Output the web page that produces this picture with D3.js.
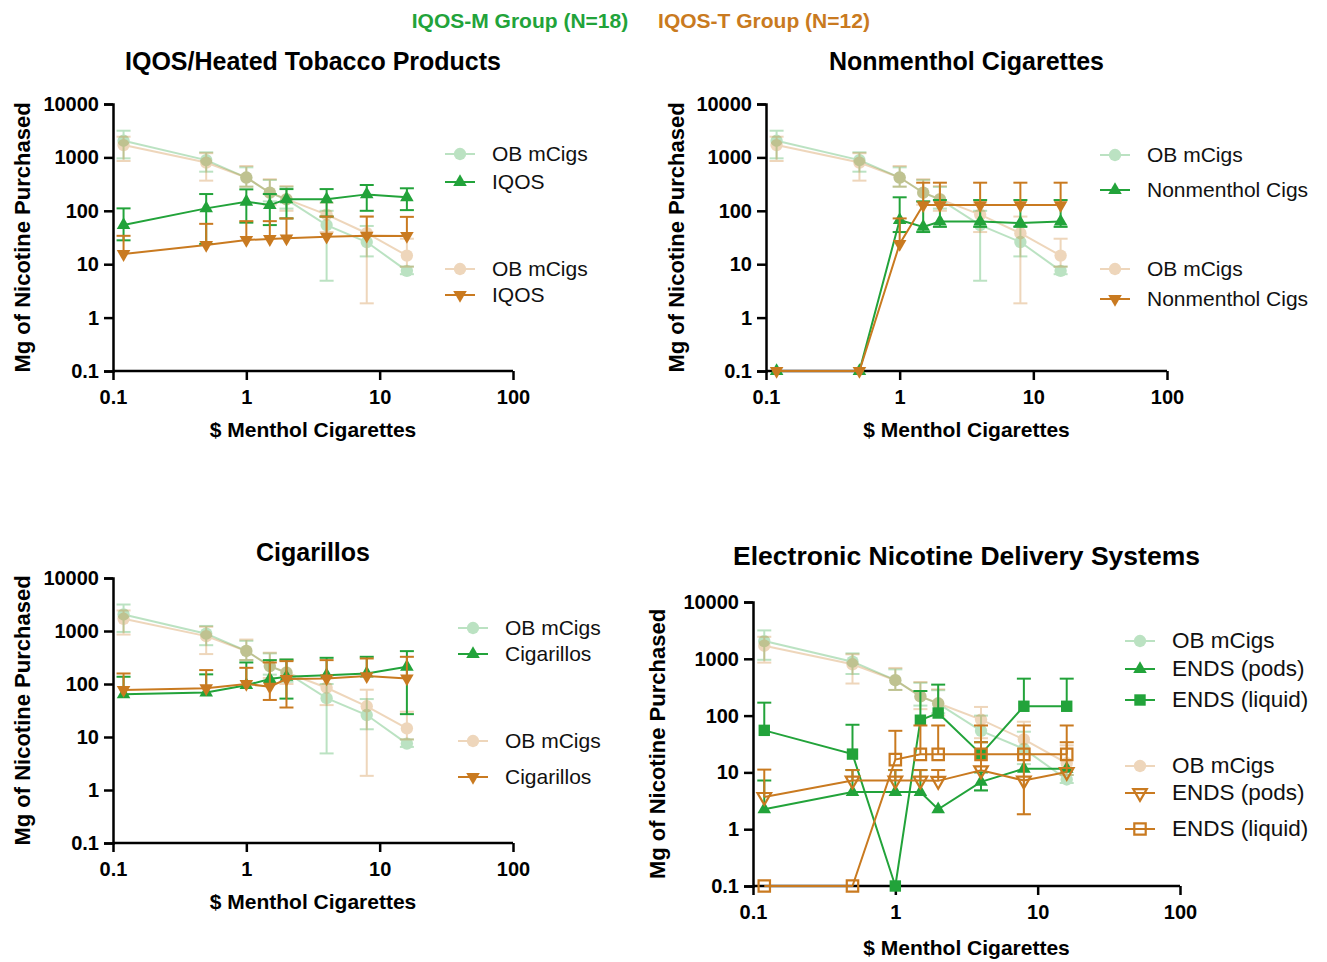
<!DOCTYPE html>
<html>
<head>
<meta charset="utf-8">
<script src="https://cdn.jsdelivr.net/npm/d3@7"></script>
<style>
  body { margin: 0; background: #fff; }
  svg { font-family: "Liberation Sans", Arial, sans-serif; }
  .axis path, .axis line { stroke: #000; stroke-width: 2.5; }
  .axis text { font-weight: bold; font-size: 20px; fill: #000; }
</style>
</head>
<body>
<svg id="chart" width="1327" height="962"></svg>
<script>
// price points ($ menthol cigarettes)
const prices = [0.12, 0.5, 1, 1.5, 2, 4, 8, 16];
const yTicks = [0.1, 1, 10, 100, 1000, 10000];
const xTicks = [0.1, 1, 10, 100];

// own-brand menthol cigs, same in every panel
const obM = [2050, 890, 420, 218, 163, 54, 26, 7.5];
const obMLo = [960, 540, 283, 150, 110, 4.9, 14, 6.5];
const obMHi = [3160, 1245, 652, 378, 280, 100, 52, 9];
const obT = [1700, 800, 420, 218, 165, 85, 38, 14.5];
const obTLo = [857, 367, 283, 130, 100, 40, 1.85, 9];
const obTHi = [2440, 1200, 690, 390, 290, 142, 78, 30];

// IQOS
const iqosM = [54, 111, 148, 128, 164, 164, 203, 179];
const iqosMLo = [28, 24, 60, 54, 72, 78, 100, 103];
const iqosMHi = [111, 206, 252, 206, 255, 255, 304, 264];
const iqosT = [15.5, 22.9, 28.4, 29.6, 30.5, 32.8, 34.2, 33.7];
const iqosTLo = [15.5, 22.9, 28.4, 29.6, 30.5, 32.8, 34.2, 33.7];
const iqosTHi = [34, 57, 64, 64, 72, 78, 78, 77];

// nonmenthol cigs
const nonM = [0.1, 0.1, 67, 50, 63, 63, 59, 63];
const nonMLo = [0.1, 0.1, 40, 40, 50, 50, 50, 50];
const nonMHi = [0.1, 0.1, 179, 150, 159, 159, 159, 159];
const nonT = [0.1, 0.1, 24, 128, 128, 128, 128, 128];
const nonTLo = [0.1, 0.1, 24, 128, 128, 128, 128, 128];
const nonTHi = [0.1, 0.1, 72, 336, 336, 336, 336, 336];

// cigarillos
const cigM = [64, 69, 95, 124, 137, 147, 158, 211];
const cigMLo = [64, 69, 95, 124, 53, 147, 158, 27];
const cigMHi = [137, 152, 255, 282, 290, 312, 326, 417];
const cigT = [77, 83, 100, 89, 124, 127, 141, 127];
const cigTLo = [77, 83, 100, 50, 36, 127, 141, 127];
const cigTHi = [158, 183, 202, 255, 270, 282, 303, 326];

// ENDS
const podsM = [2.24, 4.5, 4.5, 4.5, 2.24, 6.8, 11.6, 11.6];
const podsMLo = [2.24, 4.5, 4.5, 4.5, 2.24, 4.8, 11.6, 11.6];
const podsMHi = [7.2, 11, 11, 11, 2.24, 10, 11.6, 11.6];
const liqM = [55, 21, 0.1, 83, 111, 21, 146, 146];
const liqMLo = [55, 21, 0.1, 83, 111, 21, 146, 146];
const liqMHi = [169, 69, 0.1, 271, 351, 34, 447, 447];
const podsT = [3.7, 7.2, 7.2, 7.2, 7.1, 10.9, 7.2, 10.2];
const podsTLo = [3.7, 7.2, 7.2, 7.2, 7.1, 10.9, 1.83, 10.2];
const podsTHi = [11.2, 11, 11, 11, 11, 34, 21, 34];
const liqT = [0.1, 0.1, 16.8, 20.8, 20.8, 20.8, 20.8, 20.8];
const liqTLo = [0.1, 0.1, 16.8, 20.8, 20.8, 20.8, 20.8, 20.8];
const liqTHi = [0.1, 0.1, 54, 67, 67, 67, 67, 67];

const GREEN = "#22a33a";
const ORANGE = "#c97a20";

const svg = d3.select("#chart");

// group header
svg.append("text").attr("x", 520).attr("y", 28).attr("text-anchor", "middle")
  .attr("font-weight", "bold").attr("font-size", 21).attr("fill", GREEN)
  .text("IQOS-M Group (N=18)");
svg.append("text").attr("x", 764).attr("y", 28).attr("text-anchor", "middle")
  .attr("font-weight", "bold").attr("font-size", 21).attr("fill", ORANGE)
  .text("IQOS-T Group (N=12)");

function series(vals, lo, hi, color, shape, open, light, label) {
  return { vals, lo, hi, color, shape, open, light, label };
}

const obSeriesM = series(obM, obMLo, obMHi, GREEN, "circle", false, true, "OB mCigs");
const obSeriesT = series(obT, obTLo, obTHi, ORANGE, "circle", false, true, "OB mCigs");

const panels = [
  { title: "IQOS/Heated Tobacco Products", x0: 113, x1: 513, y0: 104, y1: 371, titleY: 70, labelX: 22,
    titleSize: 25, legendSize: 21, xTitleDy: 66,
    series: [series(iqosM, iqosMLo, iqosMHi, GREEN, "up", false, false, "IQOS"),
             series(iqosT, iqosTLo, iqosTHi, ORANGE, "down", false, false, "IQOS")],
    legend: { x: 445, ys: [[154, 182], [269, 295]] } },
  { title: "Nonmenthol Cigarettes", x0: 766, x1: 1167, y0: 104, y1: 371, titleY: 70, labelX: 676,
    titleSize: 25, legendSize: 21, xTitleDy: 66,
    series: [series(nonM, nonMLo, nonMHi, GREEN, "up", false, false, "Nonmenthol Cigs"),
             series(nonT, nonTLo, nonTHi, ORANGE, "down", false, false, "Nonmenthol Cigs")],
    legend: { x: 1100, ys: [[155, 190], [269, 299]] } },
  { title: "Cigarillos", x0: 113, x1: 513, y0: 578, y1: 843, titleY: 561, labelX: 22,
    titleSize: 25, legendSize: 21, xTitleDy: 66,
    series: [series(cigM, cigMLo, cigMHi, GREEN, "up", false, false, "Cigarillos"),
             series(cigT, cigTLo, cigTHi, ORANGE, "down", false, false, "Cigarillos")],
    legend: { x: 458, ys: [[628, 654], [741, 777]] } },
  { title: "Electronic Nicotine Delivery Systems", x0: 753, x1: 1180, y0: 602, y1: 886, titleY: 565, labelX: 657,
    titleSize: 26.5, legendSize: 22.5, xTitleDy: 69,
    series: [series(podsM, podsMLo, podsMHi, GREEN, "up", false, false, "ENDS (pods)"),
             series(liqM, liqMLo, liqMHi, GREEN, "square", false, false, "ENDS (liquid)"),
             series(podsT, podsTLo, podsTHi, ORANGE, "down", true, false, "ENDS (pods)"),
             series(liqT, liqTLo, liqTHi, ORANGE, "square", true, false, "ENDS (liquid)")],
    legend: { x: 1125, ys: [[641, 669, 700], [766, 793, 829]] } }
];

function symbolPath(shape) {
  if (shape === "circle") return d3.symbol(d3.symbolCircle, 120)();
  if (shape === "square") return d3.symbol(d3.symbolSquare, 130)();
  return d3.symbol(d3.symbolTriangle, 80)();
}

function drawMarker(g, s, x, y) {
  const m = g.append("path")
    .attr("d", symbolPath(s.shape))
    .attr("transform", `translate(${x},${y})` + (s.shape === "down" ? " rotate(180)" : ""));
  if (s.open) {
    m.attr("fill", "none").attr("stroke", s.color).attr("stroke-width", 2.2);
  } else {
    m.attr("fill", s.color);
  }
}

panels.forEach(p => {
  const x = d3.scaleLog().domain([0.1, 100]).range([p.x0, p.x1]);
  const y = d3.scaleLog().domain([0.1, 10000]).range([p.y1, p.y0]);
  const g = svg.append("g");
  const cx = (p.x0 + p.x1) / 2;

  g.append("text").attr("x", cx).attr("y", p.titleY).attr("text-anchor", "middle")
    .attr("font-weight", "bold").attr("font-size", p.titleSize).text(p.title);

  const xa = g.append("g").attr("class", "axis").attr("transform", `translate(0,${p.y1})`)
    .call(d3.axisBottom(x).tickValues(xTicks).tickFormat(d => String(d)).tickSizeOuter(0).tickSize(9).tickPadding(10));
  g.append("g").attr("class", "axis").attr("transform", `translate(${p.x0},0)`)
    .call(d3.axisLeft(y).tickValues(yTicks).tickFormat(d => String(d)).tickSizeOuter(0).tickSize(9).tickPadding(5));
  xa.select(".domain").attr("d", `M${p.x0},0H${p.x1}`);

  g.append("text").attr("x", cx).attr("y", p.y1 + p.xTitleDy).attr("text-anchor", "middle")
    .attr("font-weight", "bold").attr("font-size", 21).text("$ Menthol Cigarettes");
  g.append("text")
    .attr("transform", `translate(${p.labelX + 8},${(p.y0 + p.y1) / 2}) rotate(-90)`)
    .attr("text-anchor", "middle").attr("font-weight", "bold").attr("font-size", 22)
    .text("Mg of Nicotine Purchased");

  const all = [obSeriesM, obSeriesT].concat(p.series);
  const line = d3.line().x(d => x(d[0])).y(d => y(d[1]));

  all.forEach(s => {
    const sg = g.append("g").attr("opacity", s.light ? 0.3 : 1);
    // error bars
    prices.forEach((px, i) => {
      const xx = x(px);
      const lo = y(s.lo[i]), hi = y(s.hi[i]);
      if (Math.abs(lo - hi) < 1) return;
      sg.append("line").attr("x1", xx).attr("x2", xx).attr("y1", lo).attr("y2", hi)
        .attr("stroke", s.color).attr("stroke-width", 2);
      [s.lo[i], s.hi[i]].forEach(v => {
        if (v === s.vals[i]) return;
        sg.append("line").attr("x1", xx - 7).attr("x2", xx + 7).attr("y1", y(v)).attr("y2", y(v))
          .attr("stroke", s.color).attr("stroke-width", 2);
      });
    });
    sg.append("path").datum(prices.map((px, i) => [px, s.vals[i]]))
      .attr("d", line).attr("fill", "none").attr("stroke", s.color).attr("stroke-width", 2);
    prices.forEach((px, i) => drawMarker(sg, s, x(px), y(s.vals[i])));
  });

  // legend
  const groups = [[obSeriesM].concat(p.series.filter(s => s.color === GREEN)),
                  [obSeriesT].concat(p.series.filter(s => s.color === ORANGE))];
  groups.forEach((grp, gi) => {
    grp.forEach((s, k) => {
      const ly = p.legend.ys[gi][k];
      const lg = g.append("g").attr("opacity", s.light ? 0.3 : 1);
      lg.append("line").attr("x1", p.legend.x).attr("x2", p.legend.x + 30)
        .attr("y1", ly).attr("y2", ly).attr("stroke", s.color).attr("stroke-width", 2);
      drawMarker(lg, s, p.legend.x + 15, ly);
      g.append("text").attr("x", p.legend.x + 47).attr("y", ly + 7)
        .attr("font-size", p.legendSize).attr("fill", "#111").text(s.label);
    });
  });
});
</script>
</body>
</html>
